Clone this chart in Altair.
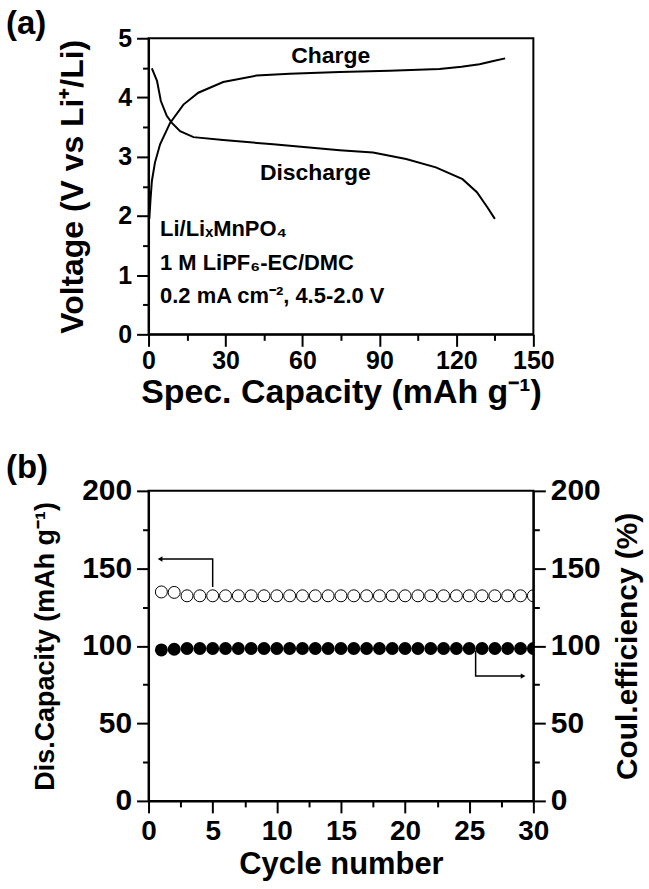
import altair as alt
import pandas as pd

# ---------------- Panel (a): charge / discharge curves ----------------
charge_cap = [0.3, 0.8, 1.3, 2.5, 4.5, 8.4, 13.6, 19.4, 29.1, 42.1, 55.0, 74.5, 93.9, 113.4, 122.0, 129.0, 134.0, 139.0]
charge_v = [1.95, 2.30, 2.59, 2.90, 3.21, 3.57, 3.88, 4.08, 4.26, 4.37, 4.40, 4.43, 4.45, 4.48, 4.52, 4.56, 4.61, 4.66]
dis_cap = [1.3, 3.3, 4.8, 7.1, 9.1, 12.3, 17.5, 29.1, 48.6, 74.5, 87.5, 100.4, 112.0, 122.4, 128.0, 132.0, 135.0]
dis_v = [4.49, 4.28, 3.94, 3.69, 3.57, 3.43, 3.33, 3.28, 3.21, 3.11, 3.07, 2.96, 2.82, 2.62, 2.40, 2.15, 1.95]

label_text = ["Charge", "Discharge"]
label_x = [71, 65]
label_y = [4.70, 2.72]

note_text = ["Li/LiₓMnPO₄", "1 M LiPF₆-EC/DMC", "0.2 mA cm⁻², 4.5-2.0 V"]
note_x = [4.5, 4.5, 4.5]
note_y = [1.78, 1.21, 0.64]

# ---------------- Panel (b): cycling ----------------
cycles = list(range(1, 31))
dis_capacity = [134.8, 134.5, 132.3, 132.3, 132.3, 132.3, 132.3, 132.3, 132.3, 132.3,
                132.3, 132.3, 132.3, 132.3, 132.3, 132.3, 132.3, 132.3, 132.3, 132.3,
                132.3, 132.3, 132.3, 132.3, 132.3, 132.3, 132.3, 132.3, 132.3, 132.3]
coul_eff = [97.4, 97.8, 98.3, 98.3, 98.3, 98.3, 98.3, 98.3, 98.3, 98.3,
            98.3, 98.3, 98.3, 98.3, 98.3, 98.3, 98.3, 98.3, 98.3, 98.3,
            98.3, 98.3, 98.3, 98.3, 98.3, 98.3, 98.3, 98.3, 98.3, 98.3]

arrow_left_x = [5, 5, 0.9]
arrow_left_y = [138, 156, 156]
arrow_right_x = [25.5, 25.5, 29.2]
arrow_right_y = [97, 80.5, 80.5]

FONT = "Liberation Sans, Arial"


def axis(values, major, title, label_size, title_size, title_pad, label_pad=5, **kw):
    test_minor = f"abs(datum.value / {major} - round(datum.value / {major})) > 0.001"
    return alt.Axis(
        values=values,
        labelExpr=f"{test_minor} ? '' : format(datum.value, 'd')",
        tickSize={"condition": {"test": test_minor, "value": 6}, "value": 12},
        title=title, labelFlush=False, labelOverlap=False,
        domainColor="black", domainWidth=2, tickColor="black", tickWidth=2,
        labelFont=FONT, labelFontWeight="bold", labelFontSize=label_size, labelColor="black",
        labelPadding=label_pad, titleFont=FONT, titleFontWeight="bold", titleFontSize=title_size,
        titleColor="black", titlePadding=title_pad, grid=False, **kw)


# ---------- build panel (a) ----------
curve_df = pd.DataFrame({
    "cap": charge_cap + dis_cap,
    "v": charge_v + dis_v,
    "s": ["Charge"] * len(charge_cap) + ["Discharge"] * len(dis_cap),
    "o": list(range(len(charge_cap))) + list(range(len(dis_cap))),
})
lab_df = pd.DataFrame({"cap": label_x, "v": label_y, "t": label_text})
note_df = pd.DataFrame({"cap": note_x, "v": note_y, "t": note_text})

xa = alt.X("cap:Q", scale=alt.Scale(domain=[0, 150], nice=False),
           axis=axis(list(range(0, 151, 15)), 30, "Spec. Capacity (mAh g⁻¹)", 25, 34, 2, label_pad=2))
ya = alt.Y("v:Q", scale=alt.Scale(domain=[0, 5], nice=False),
           axis=axis([0, 0.5, 1, 1.5, 2, 2.5, 3, 3.5, 4, 4.5, 5], 1, "Voltage (V vs Li⁺/Li)", 25, 32, 28))

curves = alt.Chart(curve_df).mark_line(color="black", strokeWidth=2).encode(
    x=xa, y=ya, detail="s:N", order="o:Q")
labels = alt.Chart(lab_df).mark_text(font=FONT, fontWeight="bold", fontSize=23, color="black").encode(
    x=xa, y=ya, text="t:N")
notes = alt.Chart(note_df).mark_text(font=FONT, fontWeight="bold", fontSize=22, color="black",
                                     align="left").encode(x=xa, y=ya, text="t:N")

panel_a = alt.layer(curves, labels, notes).properties(
    width=386, height=297,
    title=alt.TitleParams("(a)", anchor="start", frame="group", dx=-143, offset=-15,
                          font=FONT, fontSize=33, fontWeight="bold", color="black"))

# ---------- build panel (b) ----------
cap_df = pd.DataFrame({"c": cycles, "y": dis_capacity})
eff_df = pd.DataFrame({"c": cycles, "y": coul_eff})
al_df = pd.DataFrame({"c": arrow_left_x, "y": arrow_left_y, "o": [0, 1, 2]})
ar_df = pd.DataFrame({"c": arrow_right_x, "y": arrow_right_y, "o": [0, 1, 2]})

yvals = [0, 25, 50, 75, 100, 125, 150, 175, 200]
xb = alt.X("c:Q", scale=alt.Scale(domain=[0, 30], nice=False),
           axis=axis([0, 2.5, 5, 7.5, 10, 12.5, 15, 17.5, 20, 22.5, 25, 27.5, 30], 5,
                     "Cycle number", 28, 31, 4))
yl = alt.Y("y:Q", scale=alt.Scale(domain=[0, 200], nice=False),
           axis=axis(yvals, 50, "Dis.Capacity (mAh g⁻¹)", 30, 27, 22, orient="left"))
yr = alt.Y("y:Q", scale=alt.Scale(domain=[0, 200], nice=False),
           axis=axis(yvals, 50, "Coul.efficiency (%)", 30, 30, 12, orient="right",
                     titleAngle=270, titleBaseline="top"))

open_pts = alt.Chart(cap_df).mark_point(shape="circle", filled=False, color="black",
                                        strokeWidth=1, size=144, clip=True, opacity=1).encode(x=xb, y=yl)
al_line = alt.Chart(al_df).mark_line(color="black", strokeWidth=1.5).encode(x=xb, y=yl, order="o:Q")
al_head = alt.Chart(al_df).transform_filter("datum.o == 2").mark_point(
    shape="triangle-left", filled=True, color="black", size=30, opacity=1).encode(x=xb, y=yl)
left_group = alt.layer(open_pts, al_line, al_head)

fill_pts = alt.Chart(eff_df).mark_circle(color="black", size=169, clip=True, opacity=1).encode(x=xb, y=yr)
ar_line = alt.Chart(ar_df).mark_line(color="black", strokeWidth=1.5).encode(x=xb, y=yr, order="o:Q")
ar_head = alt.Chart(ar_df).transform_filter("datum.o == 2").mark_point(
    shape="triangle-right", filled=True, color="black", size=30, opacity=1).encode(x=xb, y=yr)
right_group = alt.layer(fill_pts, ar_line, ar_head)

panel_b = alt.layer(left_group, right_group).resolve_scale(y="independent").properties(
    width=386, height=311,
    title=alt.TitleParams("(b)", anchor="start", frame="group", dx=-143, offset=-9,
                          font=FONT, fontSize=33, fontWeight="bold", color="black"))

chart = alt.vconcat(panel_a, panel_b, spacing=157, bounds="flush").properties(
    padding={"left": 5, "top": 6, "right": 5, "bottom": 5}
).configure_view(stroke="black", strokeWidth=2)

chart.save("out.html", embed_options={"renderer": "svg", "actions": False})
